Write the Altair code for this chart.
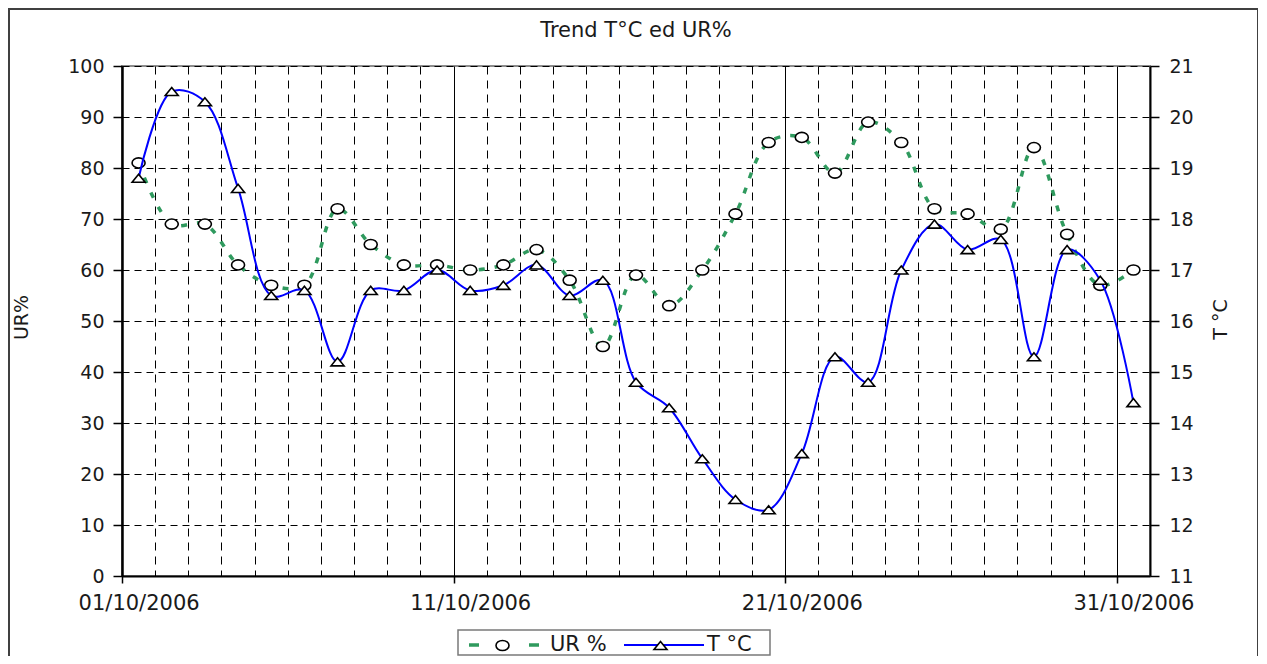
import altair as alt
import pandas as pd

# ---------------- data ----------------
days = list(range(1, 32))  # 1..31 October 2006 (values plotted at midday)
ur_values = [81, 69, 69, 61, 57, 57, 72, 65, 61, 61, 60, 61, 64, 58, 45, 59,
             53, 60, 71, 85, 86, 79, 89, 85, 72, 71, 68, 84, 67, 57, 60]
t_values = [18.8, 20.5, 20.3, 18.6, 16.5, 16.6, 15.2, 16.6, 16.6, 17.0, 16.6,
            16.7, 17.1, 16.5, 16.8, 14.8, 14.3, 13.3, 12.5, 12.3, 13.4, 15.3,
            14.8, 17.0, 17.9, 17.4, 17.6, 15.3, 17.4, 16.8, 14.4]
ur_ticks = list(range(0, 101, 10))
t_ticks = list(range(11, 22))
series_names = ["UR %", "T °C"]
marker_keys = ["UR % o", "T °C t"]
title_text = "Trend T°C ed UR%"

df = pd.DataFrame({
    "date": [f"2006-10-{d:02d}T12:00:00" for d in days],
    "UR": ur_values,
    "T": t_values,
})
df["s_ur"] = series_names[0]
df["s_t"] = series_names[1]
df["m_ur"] = marker_keys[0]
df["m_t"] = marker_keys[1]

# ---------------- style ----------------
W, H = 1028, 510
FONT = "DejaVu Sans"
TXT = "#1a1a1a"
GREEN = "#2f9a5e"
BLUE = "#0000ff"
MAJOR = "date(datum.value) % 10 == 1"
ELLIPSE = "M-1,0A1,0.78 0 1,0 1,0A1,0.78 0 1,0 -1,0Z"
TRIANGLE = "M-1,0.62L1,0.62L0,-0.62Z"

x_enc = alt.X(
    "date:T",
    scale=alt.Scale(domain=[alt.DateTime(year=2006, month=10, date=1),
                            alt.DateTime(year=2006, month=11, date=1)]),
    axis=alt.Axis(
        values=[alt.DateTime(year=2006, month=10, date=d) for d in days],
        title=None,
        labelExpr=f"{MAJOR} ? timeFormat(datum.value, '%d/%m/%Y') : ''",
        labelOffset=16.6, labelFlush=False, labelOverlap=False, labelBound=False,
        labelFont=FONT, labelFontSize=21, labelColor=TXT, labelPadding=9,
        tickSize=7, tickColor="black", tickWidth=1.5,
        tickOpacity={"condition": {"test": MAJOR, "value": 1}, "value": 0},
        grid=True, gridColor="black", gridWidth=1, gridOpacity=1,
        gridDash={"condition": {"test": MAJOR, "value": []}, "value": [8, 6]},
        domainColor="black", domainWidth=2,
    ),
)

y_ur = alt.Y(
    "UR:Q",
    scale=alt.Scale(domain=[0, 100], nice=False, zero=False),
    axis=alt.Axis(
        values=ur_ticks, title="UR%",
        titleFont=FONT, titleFontSize=19, titleFontWeight="normal", titleColor=TXT,
        titleAngle=270, titleX=-101, titleY=H / 2 - 4, titleAlign="center",
        titleBaseline="middle",
        labelFont=FONT, labelFontSize=19, labelColor=TXT, labelPadding=9,
        tickSize=9, tickColor="black", tickWidth=1.5,
        grid=True, gridColor="black", gridWidth=1, gridOpacity=1, gridDash=[7, 5],
        domainColor="black", domainWidth=2.5,
    ),
)

y_t = alt.Y(
    "T:Q",
    scale=alt.Scale(domain=[11, 21], nice=False, zero=False),
    axis=alt.Axis(
        orient="right", values=t_ticks, title="T °C",
        titleFont=FONT, titleFontSize=19, titleFontWeight="normal", titleColor=TXT,
        titleAngle=270, titleX=70, titleY=H / 2 - 2, titleAlign="center",
        titleBaseline="middle",
        labelFont=FONT, labelFontSize=19, labelColor=TXT, labelPadding=10,
        tickSize=9, tickColor="black", tickWidth=1.5,
        grid=False, domainColor="black", domainWidth=2,
    ),
)

base = alt.Chart(df)

ur_line = base.mark_line(
    interpolate="catmull-rom", strokeDash=[6, 10], strokeWidth=3.5, strokeCap="butt"
).encode(
    x=x_enc, y=y_ur,
    color=alt.Color("s_ur:N", scale=alt.Scale(domain=[series_names[0]], range=[GREEN]),
                    legend=alt.Legend(orient="none", legendX=370, legendY=567, title=None,
                                      padding=0, symbolType="M-3.5,0H3.5", symbolSize=400,
                                      symbolDash=[10, 50], symbolStrokeWidth=3.5,
                                      labelOffset=34, labelFont=FONT, labelFontSize=21,
                                      labelColor=TXT)),
)
ur_pts = base.mark_point(
    filled=False, color="black", fill="white", strokeWidth=1.6, size=169, opacity=1
).encode(
    x=x_enc, y=y_ur,
    shape=alt.Shape("m_ur:N", scale=alt.Scale(domain=[marker_keys[0]], range=[ELLIPSE]),
                    legend=alt.Legend(orient="none", legendX=373, legendY=572, title=None,
                                      padding=0, symbolSize=169, symbolStrokeWidth=1.6,
                                      labelExpr="''", labelFontSize=1)),
)

t_line = base.mark_line(interpolate="catmull-rom", strokeWidth=2).encode(
    x=x_enc, y=y_t,
    color=alt.Color("s_t:N", scale=alt.Scale(domain=[series_names[1]], range=[BLUE]),
                    legend=alt.Legend(orient="none", legendX=531, legendY=568, title=None,
                                      padding=0, symbolType="M-4,0H4", symbolSize=400,
                                      symbolStrokeWidth=2,
                                      labelOffset=32, labelFont=FONT, labelFontSize=21,
                                      labelColor=TXT)),
)
t_pts = base.mark_point(
    filled=False, color="black", fill="white", strokeWidth=1.6, size=169, opacity=1
).encode(
    x=x_enc, y=y_t,
    shape=alt.Shape("m_t:N", scale=alt.Scale(domain=[marker_keys[1]], range=[TRIANGLE]),
                    legend=alt.Legend(orient="none", legendX=531, legendY=572, title=None,
                                      padding=0, symbolSize=169, symbolStrokeWidth=1.6,
                                      labelExpr="''", labelFontSize=1)),
)

one = pd.DataFrame({"k": [0]})
frame = alt.Chart(one).mark_rect(fill=None, stroke="#404040", strokeWidth=2).encode(
    x=alt.value(-113), x2=alt.value(1136), y=alt.value(-57), y2=alt.value(620)
)
legend_box = alt.Chart(one).mark_rect(fill="white", stroke="#7a7a7a", strokeWidth=1.5).encode(
    x=alt.value(336), x2=alt.value(648), y=alt.value(564), y2=alt.value(589)
)

ur_layer = alt.layer(ur_line, ur_pts)
t_layer = alt.layer(t_line, t_pts)

chart = alt.layer(frame, legend_box, ur_layer, t_layer).resolve_scale(
    y="independent", color="independent", shape="independent"
).properties(
    width=W, height=H,
    autosize=alt.AutoSizeParams(type="none"),
    padding={"left": 114, "top": 58, "right": 108, "bottom": 80},
    title=alt.TitleParams(text=title_text, font=FONT, fontSize=21, fontWeight="normal",
                          color=TXT, anchor="middle", frame="group", offset=-50,
                          baseline="alphabetic"),
).configure_view(stroke="#8c8c8c", strokeWidth=2)

chart.save("out.html", embed_options={"renderer": "svg", "actions": False})
